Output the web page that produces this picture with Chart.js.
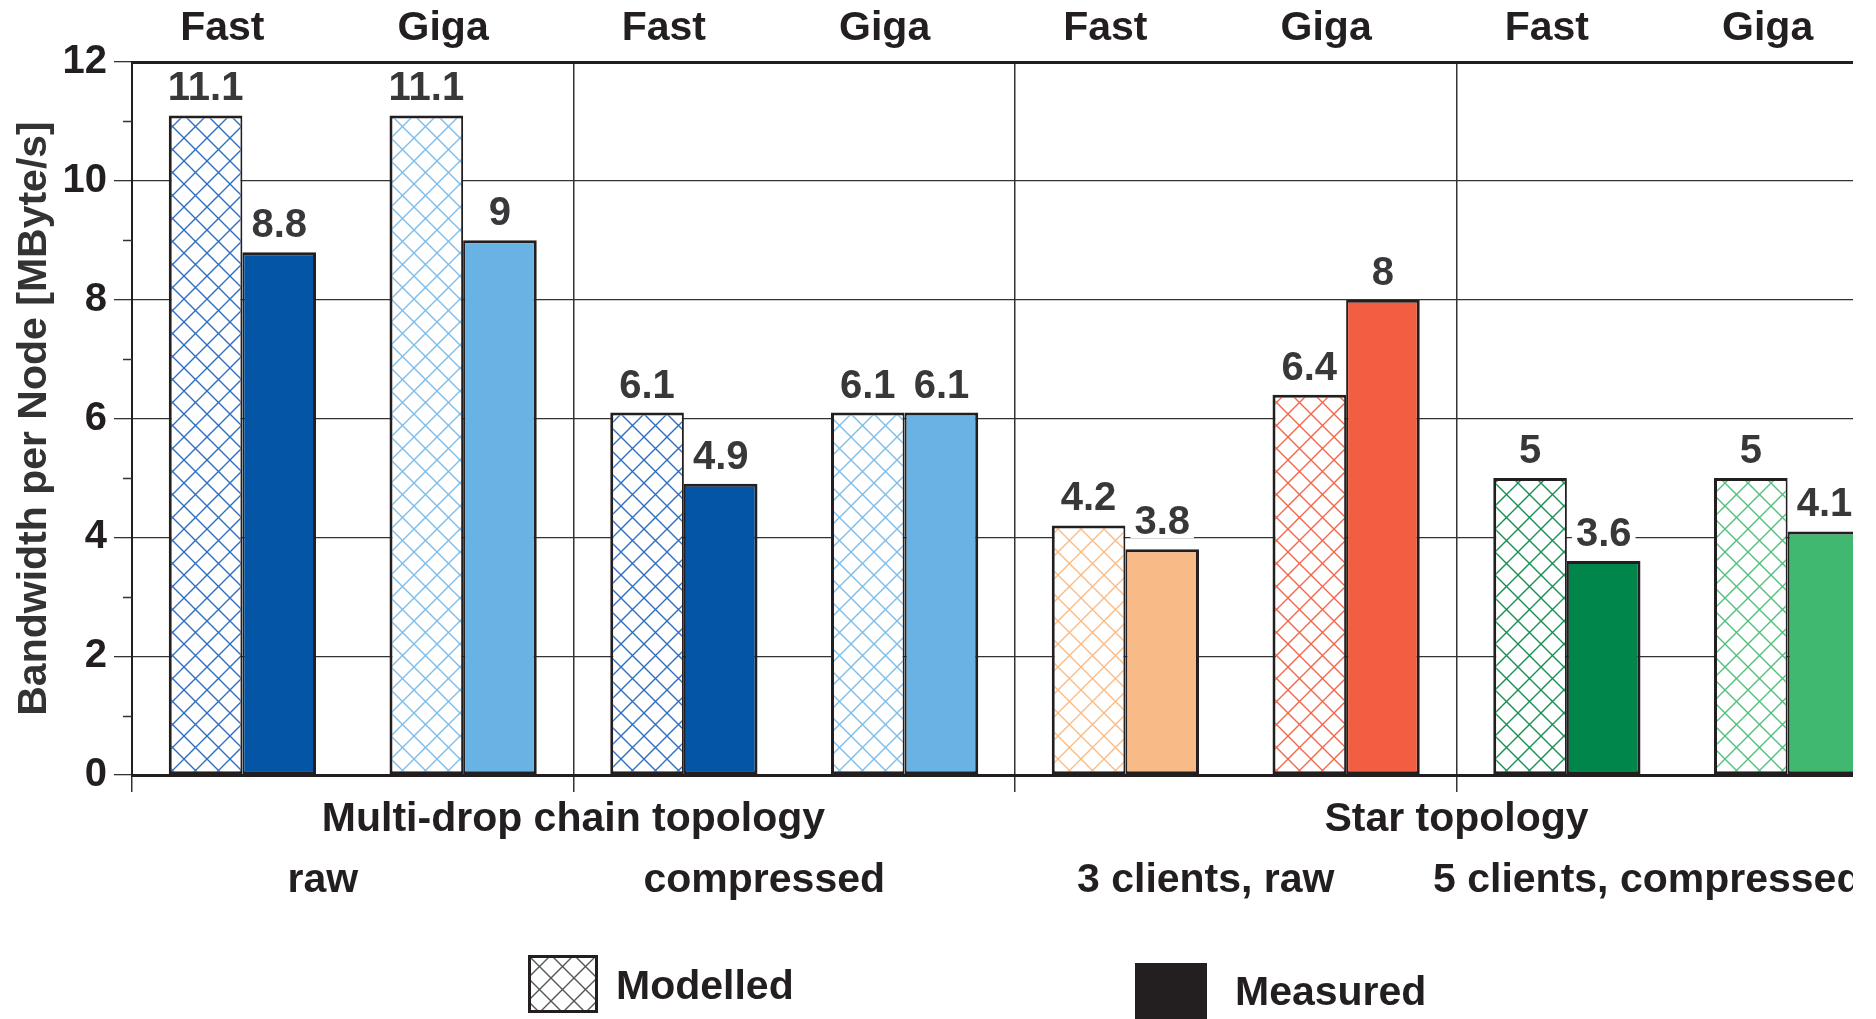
<!DOCTYPE html>
<html>
<head>
<meta charset="utf-8">
<title>Bandwidth per Node</title>
<script src="https://cdn.jsdelivr.net/npm/chart.js@4.4.1/dist/chart.umd.min.js"></script>
<style>
    html, body { margin: 0; padding: 0; background: #fff; }
    #wrap { position: relative; width: 1853px; height: 1019px; overflow: hidden; }
    #chart-box { position: absolute; left: 0; top: 0; width: 1910px; height: 1019px; }
    .swatch { position: absolute; }
    .legend-text {
        position: absolute;
        font: bold 41px "Liberation Sans", Arial, Helvetica, sans-serif;
        line-height: 41px;
        color: #231f20;
        white-space: nowrap;
    }
</style>
</head>
<body>
<div id="wrap">
    <div id="chart-box"><canvas id="chart"></canvas></div>
    <canvas id="sw-modelled" class="swatch" width="70" height="58" style="left:528px;top:955px"></canvas>
    <span class="legend-text" style="left:616px;top:965px">Modelled</span>
    <canvas id="sw-measured" class="swatch" width="72" height="60" style="left:1135px;top:963px"></canvas>
    <span class="legend-text" style="left:1235px;top:971px">Measured</span>
</div>
<script>
const categories = ['Fast', 'Giga', 'Fast', 'Giga', 'Fast', 'Giga', 'Fast', 'Giga'];
const topologies = ['Multi-drop chain topology', 'Star topology'];
const setups = ['raw', 'compressed', '3 clients, raw', '5 clients, compressed'];

const modelled = [11.1, 11.1, 6.1, 6.1, 4.2, 6.4, 5, 5];
const measured = [8.8, 9, 4.9, 6.1, 3.8, 8, 3.6, 4.1];

const measuredColors = ['#0455a6', '#68b3e3', '#0455a6', '#68b3e3', '#f8bb87', '#f25e42', '#00854a', '#41b86f'];
const hatchColors = ['#2f6fc2', '#7cbdea', '#2f6fc2', '#7cbdea', '#fbbb85', '#f4654a', '#178f52', '#52c07d'];

const TEXT = '#231f20';
const LINE = '#333333';
const FONT = '"Liberation Sans", Arial, Helvetica, sans-serif';

// crosshatch tile for the modelled bars
function makeHatch(color) {
    const size = 23;
    const c = document.createElement('canvas');
    c.width = size;
    c.height = size;
    const g = c.getContext('2d');
    g.fillStyle = '#fff';
    g.fillRect(0, 0, size, size);
    g.strokeStyle = color;
    g.lineWidth = 1.4;
    g.beginPath();
    for (let k = -1; k <= 1; k++) {
        g.moveTo(k * size, 0);
        g.lineTo(k * size + size, size);
        g.moveTo(k * size + size, 0);
        g.lineTo(k * size, size);
    }
    g.stroke();
    return g.createPattern(c, 'repeat');
}

// numbers above the bars, on a white box so grid lines break behind them
const valueLabels = {
    id: 'valueLabels',
    afterDatasetsDraw(chart) {
        const ctx = chart.ctx;
        ctx.save();
        ctx.font = 'bold 40px ' + FONT;
        ctx.textAlign = 'center';
        ctx.textBaseline = 'alphabetic';
        chart.data.datasets.forEach(function(ds, i) {
            chart.getDatasetMeta(i).data.forEach(function(bar, j) {
                const text = String(ds.data[j]);
                const w = ctx.measureText(text).width;
                const base = bar.y - 15;
                ctx.fillStyle = '#fff';
                ctx.fillRect(bar.x - w / 2 - 4, base - 31, w + 8, 35);
                ctx.fillStyle = '#38383a';
                ctx.fillText(text, bar.x, base);
            });
        });
        ctx.restore();
    }
};

// short tick marks at the odd values of the y axis
const minorTicks = {
    id: 'minorTicks',
    afterDraw(chart) {
        const y = chart.scales.y;
        const ctx = chart.ctx;
        ctx.save();
        ctx.strokeStyle = LINE;
        ctx.lineWidth = 1.3;
        ctx.beginPath();
        y.ticks.filter(t => t.value % 2 === 1).forEach(function(t) {
            const py = Math.round(y.getPixelForValue(t.value)) + 0.5;
            ctx.moveTo(y.right - 9, py);
            ctx.lineTo(y.right, py);
        });
        ctx.stroke();
        ctx.restore();
    }
};

Chart.defaults.font.family = FONT;
Chart.defaults.font.weight = 'bold';
Chart.defaults.color = TEXT;

new Chart(document.getElementById('chart'), {
    type: 'bar',
    data: {
        labels: categories,
        datasets: [
            {
                label: 'Modelled',
                data: modelled,
                backgroundColor: hatchColors.map(makeHatch),
                borderColor: TEXT,
                borderWidth: { top: 3, left: 3, right: 2, bottom: 3 },
                borderSkipped: false,
                categoryPercentage: 0.667,
                barPercentage: 1
            },
            {
                label: 'Measured',
                data: measured,
                backgroundColor: measuredColors,
                borderColor: TEXT,
                borderWidth: { top: 3, left: 2, right: 3, bottom: 3 },
                borderSkipped: false,
                categoryPercentage: 0.667,
                barPercentage: 1
            }
        ]
    },
    options: {
        responsive: true,
        maintainAspectRatio: false,
        animation: false,
        layout: { padding: { left: 10, right: 12, top: 0, bottom: 97 } },
        plugins: {
            legend: { display: false },
            tooltip: { enabled: false }
        },
        scales: {
            x: {
                offset: true,
                grid: {
                    offset: true,
                    color: ctx => ctx.index % 2 === 0 ? LINE : 'rgba(0,0,0,0)',
                    lineWidth: 1.5,
                    tickLength: 17
                },
                border: { display: true, color: TEXT, width: 3 },
                ticks: { display: false, autoSkip: false },
                afterFit: s => { s.height = 17; }
            },
            xTop: {
                axis: 'x',
                type: 'category',
                position: 'top',
                labels: categories,
                offset: true,
                grid: { display: false, drawTicks: false, tickLength: 0 },
                border: { display: true, color: TEXT, width: 3 },
                ticks: { font: { size: 41 }, color: TEXT, padding: 9, labelOffset: -20, maxRotation: 0, autoSkip: false },
                afterFit: s => { s.height = 62; }
            },
            xGroup: {
                axis: 'x',
                type: 'category',
                position: 'bottom',
                weight: 1,
                labels: topologies,
                offset: true,
                grid: { display: false, drawTicks: false, tickLength: 0 },
                border: { display: false },
                ticks: { font: { size: 41 }, color: TEXT, padding: 3, labelOffset: 0, maxRotation: 0, autoSkip: false },
                afterFit: s => { s.height = 50; }
            },
            xSub: {
                axis: 'x',
                type: 'category',
                position: 'bottom',
                weight: 2,
                labels: setups,
                offset: true,
                grid: { display: false, drawTicks: false, tickLength: 0 },
                border: { display: false },
                ticks: { font: { size: 41 }, color: TEXT, padding: 14, labelOffset: -30, maxRotation: 0, autoSkip: false },
                afterFit: s => { s.height = 80; }
            },
            y: {
                min: 0,
                max: 12,
                ticks: {
                    stepSize: 1,
                    autoSkip: false,
                    callback: v => v % 2 === 0 ? v : '',
                    font: { size: 40 },
                    color: TEXT,
                    padding: 7
                },
                grid: {
                    color: ctx => ctx.tick && ctx.tick.value % 2 === 0 ? LINE : 'rgba(0,0,0,0)',
                    lineWidth: 1.3,
                    tickLength: 18
                },
                border: { display: true, color: TEXT, width: 2 },
                title: {
                    display: true,
                    text: 'Bandwidth per Node [MByte/s]',
                    font: { size: 41 },
                    color: '#333',
                    padding: 0
                },
                afterFit: s => { s.width = 122; }
            }
        }
    },
    plugins: [valueLabels, minorTicks]
});

// legend swatches
const swMod = document.getElementById('sw-modelled').getContext('2d');
swMod.fillStyle = makeHatch('#555');
swMod.fillRect(0, 0, 70, 58);
swMod.strokeStyle = TEXT;
swMod.lineWidth = 3;
swMod.strokeRect(1.5, 1.5, 67, 55);

const swMeas = document.getElementById('sw-measured').getContext('2d');
swMeas.fillStyle = TEXT;
swMeas.fillRect(0, 0, 72, 60);
</script>
</body>
</html>
